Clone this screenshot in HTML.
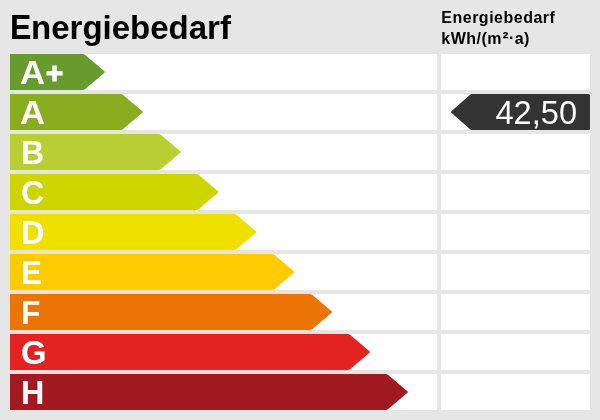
<!DOCTYPE html>
<html lang="de"><head><meta charset="utf-8"><title>Energiebedarf</title>
<style>
html,body{margin:0;padding:0;}
body{width:600px;height:420px;background:#e6e6e6;overflow:hidden;position:relative;font-family:"Liberation Sans",Arial,Helvetica,sans-serif;}
.title{position:absolute;left:10px;top:8.5px;font-size:33.5px;font-weight:bold;color:#000;line-height:36px;white-space:nowrap;transform:scaleX(0.985);transform-origin:0 0;}
.title b{display:inline-block;font-size:35px;transform:scaleX(0.93);transform-origin:0 0;margin-right:-2px;}
.unit{position:absolute;left:441.3px;top:6.5px;font-size:16px;font-weight:bold;color:#000;line-height:21px;white-space:nowrap;letter-spacing:0.5px;}
.cell{position:absolute;background:#fff;height:36px;}
.l{left:10px;width:427px;}
.r{left:441px;width:149px;}
.sq{font-size:18px;line-height:0;margin-left:0.5px;margin-right:-0.2px;position:relative;top:0.6px;}
.dot{position:relative;top:-1px;left:0.2px;}
.plus{font-size:29.5px;-webkit-text-stroke:1px #fff;position:relative;top:-1.3px;left:0.6px;}
.gap{position:absolute;left:10px;height:4px;}
svg{position:absolute;left:0;top:0;}
.lab{position:absolute;left:20px;transform-origin:0 0;font-size:34px;font-weight:bold;color:#fff;line-height:36px;height:36px;white-space:nowrap;}
.val{position:absolute;right:23px;top:93.7px;font-size:34px;color:#fff;line-height:36px;height:36px;white-space:nowrap;transform:scaleX(0.96);transform-origin:100% 0;}
</style></head><body>
<div class="title"><b>E</b>nergiebedarf</div>
<div class="unit">Energiebedarf<br>kWh/(m<span class="sq">²</span><span class="dot">·</span>a)</div>

<div class="cell l" style="top:54px"></div><div class="cell r" style="top:54px"></div>
<div class="cell l" style="top:94px"></div><div class="cell r" style="top:94px"></div>
<div class="cell l" style="top:134px"></div><div class="cell r" style="top:134px"></div>
<div class="cell l" style="top:174px"></div><div class="cell r" style="top:174px"></div>
<div class="cell l" style="top:214px"></div><div class="cell r" style="top:214px"></div>
<div class="cell l" style="top:254px"></div><div class="cell r" style="top:254px"></div>
<div class="cell l" style="top:294px"></div><div class="cell r" style="top:294px"></div>
<div class="cell l" style="top:334px"></div><div class="cell r" style="top:334px"></div>
<div class="cell l" style="top:374px"></div><div class="cell r" style="top:374px"></div>
<div class="gap" style="top:90px;width:112px;background:linear-gradient(90deg,#e4e8d8 68px,#e6e6e6 112px)"></div>
<div class="gap" style="top:130px;width:150px;background:linear-gradient(90deg,#e5e8d4 106px,#e6e6e6 150px)"></div>
<div class="gap" style="top:170px;width:188px;background:linear-gradient(90deg,#e6e8d0 144px,#e6e6e6 188px)"></div>
<div class="gap" style="top:210px;width:226px;background:linear-gradient(90deg,#eae7c4 182px,#e6e6e6 226px)"></div>
<div class="gap" style="top:250px;width:263px;background:linear-gradient(90deg,#ede5c2 220px,#e6e6e6 263px)"></div>
<div class="gap" style="top:290px;width:301px;background:linear-gradient(90deg,#f3e2cc 257px,#e6e6e6 301px)"></div>
<div class="gap" style="top:330px;width:339px;background:linear-gradient(90deg,#f7dcd3 295px,#e6e6e6 339px)"></div>
<div class="gap" style="top:370px;width:377px;background:linear-gradient(90deg,#f5dcdc 333px,#e6e6e6 377px)"></div>
<svg width="600" height="420" viewBox="0 0 600 420">
<path d="M10 54H83.0Q84.0 54 84.9 54.8L104.4 71.2Q105.3 72 104.4 72.8L84.9 89.2Q84.0 90 83.0 90H10Z" fill="#679b2d"/>
<path d="M10 94H120.9Q121.9 94 122.8 94.8L142.3 111.2Q143.2 112 142.3 112.8L122.8 129.2Q121.9 130 120.9 130H10Z" fill="#8aad1f"/>
<path d="M10 134H158.8Q159.8 134 160.7 134.8L180.2 151.2Q181.1 152 180.2 152.8L160.7 169.2Q159.8 170 158.8 170H10Z" fill="#b7cf33"/>
<path d="M10 174H196.6Q197.6 174 198.5 174.8L218.0 191.2Q218.9 192 218.0 192.8L198.5 209.2Q197.6 210 196.6 210H10Z" fill="#cdd500"/>
<path d="M10 214H234.5Q235.5 214 236.4 214.8L255.9 231.2Q256.8 232 255.9 232.8L236.4 249.2Q235.5 250 234.5 250H10Z" fill="#f0e000"/>
<path d="M10 254H272.4Q273.4 254 274.3 254.8L293.8 271.2Q294.7 272 293.8 272.8L274.3 289.2Q273.4 290 272.4 290H10Z" fill="#fdcb00"/>
<path d="M10 294H310.2Q311.2 294 312.1 294.8L331.6 311.2Q332.5 312 331.6 312.8L312.1 329.2Q311.2 330 310.2 330H10Z" fill="#ec7405"/>
<path d="M10 334H348.1Q349.1 334 350.0 334.8L369.5 351.2Q370.4 352 369.5 352.8L350.0 369.2Q349.1 370 348.1 370H10Z" fill="#e32322"/>
<path d="M10 374H386.0Q387.0 374 387.9 374.8L407.4 391.2Q408.3 392 407.4 392.8L387.9 409.2Q387.0 410 386.0 410H10Z" fill="#a11a22"/>
<path d="M588.5 94H472Q471 94 470.1 94.8L451.4 111.2Q450.5 112 451.4 112.8L470.1 129.2Q471 130 472 130H588.5Q590 130 590 128.5V95.5Q590 94 588.5 94Z" fill="#333"/>
</svg>
<div class="lab" style="top:54px;left:20px;transform:scaleX(1.02)">A<span class="plus">+</span></div>
<div class="lab" style="top:94px;left:20px;transform:scaleX(1.02)">A</div>
<div class="lab" style="top:134px;left:21.1px;transform:scaleX(0.94)">B</div>
<div class="lab" style="top:174px;left:21px;transform:scaleX(0.945)">C</div>
<div class="lab" style="top:214px;left:20.9px;transform:scaleX(0.955)">D</div>
<div class="lab" style="top:254px;left:21px;transform:scaleX(0.925)">E</div>
<div class="lab" style="top:294px;left:20.95px;transform:scaleX(0.935)">F</div>
<div class="lab" style="top:334px;left:21px;transform:scaleX(0.965)">G</div>
<div class="lab" style="top:374px;left:20.9px;transform:scaleX(0.95)">H</div>
<div class="val">42,50</div>
</body></html>
